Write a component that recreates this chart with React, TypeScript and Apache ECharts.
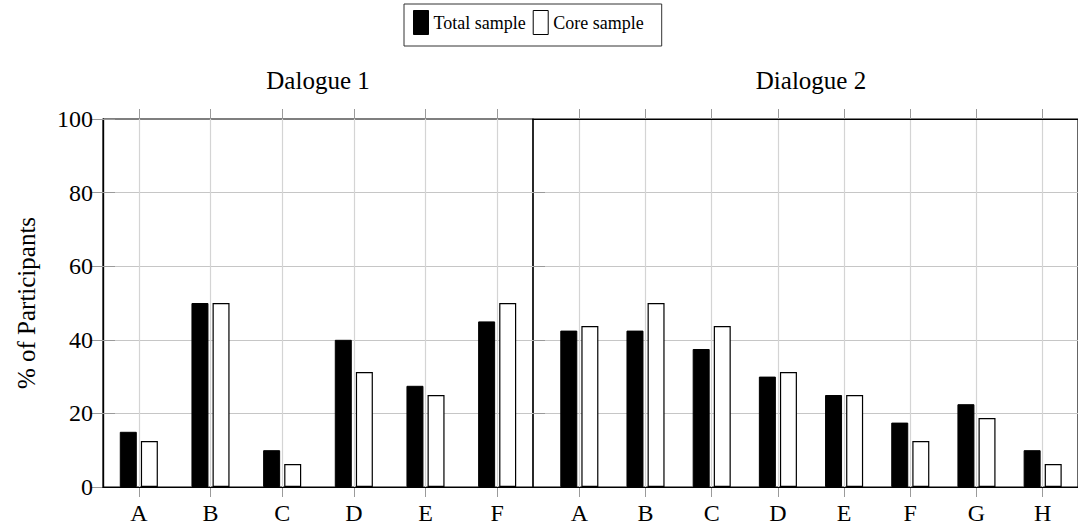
import React, { useEffect, useRef } from "react";
import * as echarts from "echarts";

const d1Title = "Dalogue 1";
const d2Title = "Dialogue 2";
const seriesNames = ["Total sample", "Core sample"];
const d1Categories = ["A", "B", "C", "D", "E", "F"];
const d1Total = [15, 50, 10, 40, 27.5, 45];
const d1Core = [12.5, 50, 6.25, 31.25, 25, 50];
const d2Categories = ["A", "B", "C", "D", "E", "F", "G", "H"];
const d2Total = [42.5, 42.5, 37.5, 30, 25, 17.5, 22.5, 10];
const d2Core = [43.75, 50, 43.75, 31.25, 25, 12.5, 18.75, 6.25];
const yMin = 0;
const yMax = 100;
const yStep = 20;
const yName = "% of Participants";

const FONT = "'Liberation Serif', 'Times New Roman', serif";

export default function App() {
  const ref = useRef<HTMLDivElement>(null);
  useEffect(() => {
    if (!ref.current) return;
    const chart = echarts.init(ref.current, undefined, { renderer: "svg" });

    const TOP = 119;
    const BOTTOM = 487;
    const H = BOTTOM - TOP;
    const L1 = 103, R1 = 533;
    const L2 = 533, R2 = 1089;
    const enlarge = 0.1;
    const W1 = R1 - L1, W2 = R2 - L2;
    const off1 = (W1 * enlarge) / (1 + 2 * enlarge);
    const off2 = (W2 * enlarge) / (1 + 2 * enlarge);

    const hGrid = "#c6c6c6";
    const vGrid = "#d4d4d4";
    const tickCol = "#9a9a9a";
    const labelStyle = { fontFamily: FONT, fontSize: 24, color: "#000" };

    const yBase = {
      min: yMin,
      max: yMax,
      interval: yStep,
      type: "value" as const,
      axisLine: { show: false },
    };

    const catBottom = (grid: number, data: string[]) => ({
      type: "category" as const,
      gridIndex: grid,
      data,
      boundaryGap: false,
      position: "bottom" as const,
      axisLine: { show: false },
      axisTick: { show: true, inside: false, length: 10, interval: 0, lineStyle: { color: tickCol } },
      axisLabel: { ...labelStyle, margin: 14, interval: 0 },
      splitLine: { show: true, interval: 0, lineStyle: { color: vGrid, width: 1.2 } },
    });
    const catTop = (grid: number, data: string[]) => ({
      type: "category" as const,
      gridIndex: grid,
      data,
      boundaryGap: false,
      position: "top" as const,
      axisLine: { show: false },
      axisTick: { show: true, inside: false, length: 10, interval: 0, lineStyle: { color: tickCol } },
      axisLabel: { show: false },
      splitLine: { show: false },
    });
    const frameAxis = (grid: number, position: "top" | "bottom") => ({
      type: "value" as const,
      gridIndex: grid,
      min: 0,
      max: 1,
      position,
      axisLine: { show: true, lineStyle: { color: "#000", width: 1.2 } },
      axisTick: { show: false },
      axisLabel: { show: false },
      splitLine: { show: false },
      z: 4,
    });

    const barCommon = {
      type: "bar" as const,
      barWidth: 17,
      barGap: "24%",
      clip: false,
    };
    const totalStyle = { color: "#000", borderColor: "#000", borderWidth: 1 };
    const coreStyle = { color: "#fff", borderColor: "#000", borderWidth: 1.2 };

    chart.setOption({
      animation: false,
      backgroundColor: "#fff",
      legend: {
        left: 404,
        top: 4,
        padding: [6, 18, 11, 9],
        itemGap: 7,
        itemWidth: 15,
        itemHeight: 24,
        borderColor: "#333",
        borderWidth: 1,
        icon: "rect",
        textStyle: { fontFamily: FONT, fontSize: 18, color: "#000" },
        data: [
          { name: seriesNames[0], itemStyle: totalStyle },
          { name: seriesNames[1], itemStyle: { color: "#fff", borderColor: "#000", borderWidth: 1 } },
        ],
      },
      graphic: [
        {
          type: "text",
          x: (L1 + R1) / 2,
          y: 80,
          style: { text: d1Title, fontFamily: FONT, fontSize: 25, fill: "#000", align: "center", verticalAlign: "middle" },
        },
        {
          type: "text",
          x: (L2 + R2) / 2,
          y: 80,
          style: { text: d2Title, fontFamily: FONT, fontSize: 25, fill: "#000", align: "center", verticalAlign: "middle" },
        },
      ],
      grid: [
        { left: L1, top: TOP, width: W1, height: H, show: true, borderColor: "#000", borderWidth: 1.2, backgroundColor: "transparent" },
        { left: L1 + off1, top: TOP, width: W1 - 2 * off1, height: H },
        { left: L2, top: TOP, width: W2, height: H, show: true, borderColor: "#000", borderWidth: 1.2, backgroundColor: "transparent" },
        { left: L2 + off2, top: TOP, width: W2 - 2 * off2, height: H },
      ],
      xAxis: [
        frameAxis(0, "bottom"),
        catBottom(1, d1Categories),
        catTop(1, d1Categories),
        frameAxis(2, "bottom"),
        catBottom(3, d2Categories),
        catTop(3, d2Categories),
        frameAxis(0, "top"),
        frameAxis(2, "top"),
      ],
      yAxis: [
        {
          ...yBase,
          gridIndex: 0,
          position: "left",
          name: yName,
          nameLocation: "middle",
          nameGap: 64,
          nameTextStyle: { fontFamily: FONT, fontSize: 25, color: "#000" },
          axisLine: { show: true, lineStyle: { color: "#000", width: 1.2 } },
          axisTick: { show: true, inside: true, length: 12, lineStyle: { color: tickCol } },
          axisLabel: { ...labelStyle, margin: 10 },
          splitLine: { show: true, showMinLine: false, showMaxLine: false, lineStyle: { color: hGrid, width: 1 } },
        },
        {
          ...yBase,
          gridIndex: 0,
          position: "right",
          axisLine: { show: true, lineStyle: { color: "#000", width: 1.2 } },
          axisTick: { show: true, inside: true, length: 12, lineStyle: { color: tickCol } },
          axisLabel: { show: false },
          splitLine: { show: false },
        },
        { ...yBase, gridIndex: 1, show: false },
        {
          ...yBase,
          gridIndex: 2,
          position: "left",
          axisTick: { show: true, inside: true, length: 12, lineStyle: { color: tickCol } },
          axisLabel: { show: false },
          splitLine: { show: true, showMinLine: false, showMaxLine: false, lineStyle: { color: hGrid, width: 1 } },
        },
        { ...yBase, gridIndex: 3, show: false },
      ],
      series: [
        { ...barCommon, name: seriesNames[0], xAxisIndex: 1, yAxisIndex: 2, data: d1Total, itemStyle: totalStyle, z: 5 },
        { ...barCommon, name: seriesNames[1], xAxisIndex: 1, yAxisIndex: 2, data: d1Core, itemStyle: coreStyle, z: 5 },
        { ...barCommon, name: seriesNames[0], xAxisIndex: 4, yAxisIndex: 4, data: d2Total, itemStyle: totalStyle, z: 5 },
        { ...barCommon, name: seriesNames[1], xAxisIndex: 4, yAxisIndex: 4, data: d2Core, itemStyle: coreStyle, z: 5 },
      ],
    });

    return () => chart.dispose();
  }, []);

  return (
    <div
      ref={ref}
      style={{ position: "absolute", left: 0, top: 0, width: 1078, height: 529 }}
    />
  );
}
